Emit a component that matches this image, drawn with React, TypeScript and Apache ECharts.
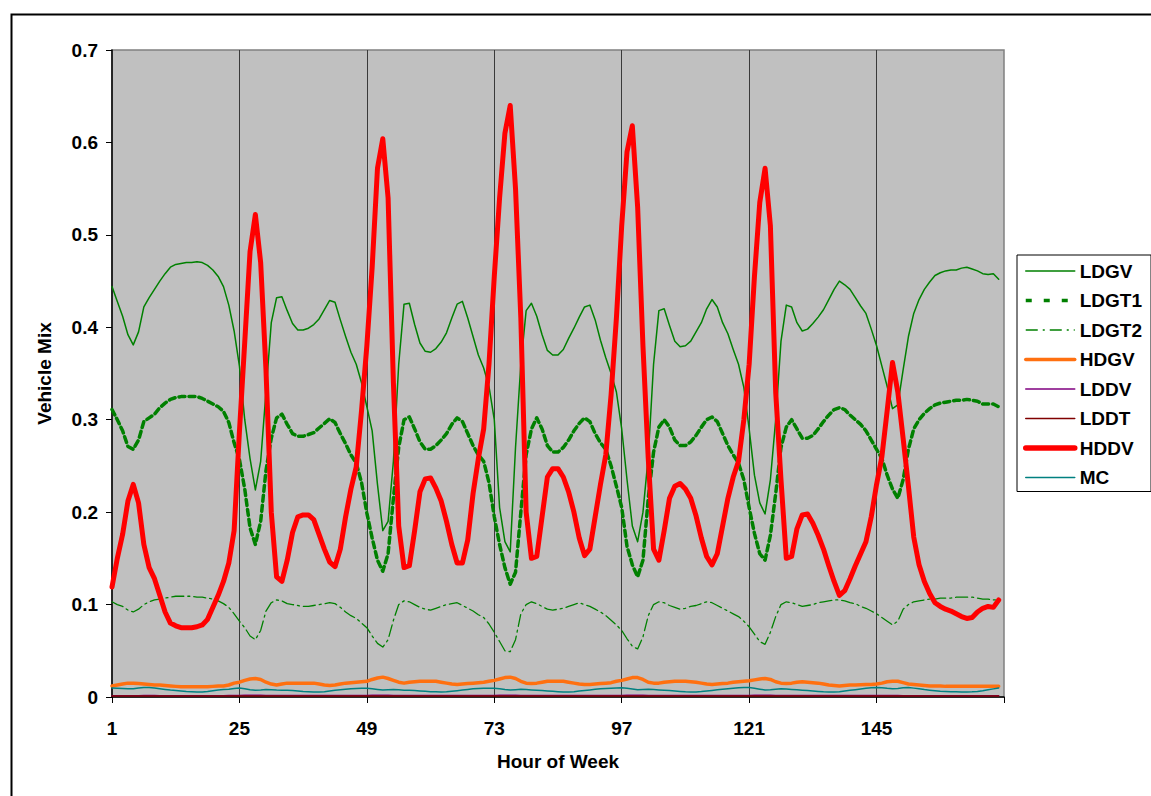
import React, { useEffect, useRef } from "react";
import * as echarts from "echarts";

// Hour-of-week categories (1..169; data covers 1..168)
const hours: string[] = Array.from({ length: 169 }, (_, i) => String(i + 1));
const yTicks = [0, 0.1, 0.2, 0.3, 0.4, 0.5, 0.6, 0.7];

const LDGV = [
  0.444, 0.428, 0.412, 0.392, 0.381, 0.395, 0.422, 0.432, 0.441, 0.450, 0.458, 0.465, 0.468, 0.469, 0.470, 0.470, 0.471, 0.470, 0.467, 0.462, 0.455, 0.444, 0.424, 0.396,
  0.358, 0.300, 0.258, 0.224, 0.255, 0.330, 0.405, 0.432, 0.433, 0.418, 0.404, 0.397, 0.397, 0.399, 0.403, 0.409, 0.419, 0.429, 0.427, 0.408, 0.390, 0.373, 0.360, 0.340,
  0.314, 0.288, 0.230, 0.180, 0.190, 0.255, 0.360, 0.425, 0.426, 0.403, 0.383, 0.374, 0.373, 0.377, 0.384, 0.394, 0.410, 0.425, 0.428, 0.410, 0.390, 0.370, 0.356, 0.336,
  0.300, 0.205, 0.168, 0.157, 0.270, 0.360, 0.418, 0.426, 0.412, 0.392, 0.375, 0.370, 0.370, 0.376, 0.388, 0.399, 0.411, 0.422, 0.424, 0.408, 0.386, 0.367, 0.350, 0.330,
  0.290, 0.235, 0.185, 0.168, 0.200, 0.260, 0.360, 0.418, 0.420, 0.402, 0.385, 0.379, 0.380, 0.385, 0.395, 0.405, 0.420, 0.430, 0.422, 0.405, 0.393, 0.376, 0.360, 0.335,
  0.290, 0.240, 0.210, 0.198, 0.235, 0.300, 0.385, 0.424, 0.422, 0.405, 0.396, 0.398, 0.404, 0.411, 0.419, 0.430, 0.441, 0.450, 0.446, 0.441, 0.432, 0.423, 0.415, 0.398,
  0.380, 0.358, 0.336, 0.312, 0.316, 0.354, 0.390, 0.415, 0.430, 0.441, 0.449, 0.456, 0.459, 0.461, 0.462, 0.462, 0.464, 0.465, 0.463, 0.461, 0.458, 0.457, 0.458, 0.452,
];

const LDGT1 = [
  0.311, 0.300, 0.288, 0.271, 0.268, 0.278, 0.298, 0.302, 0.306, 0.313, 0.318, 0.322, 0.324, 0.325, 0.325, 0.325, 0.325, 0.323, 0.320, 0.317, 0.314, 0.309, 0.297, 0.275,
  0.257, 0.225, 0.183, 0.165, 0.190, 0.245, 0.280, 0.302, 0.306, 0.295, 0.285, 0.282, 0.282, 0.284, 0.286, 0.291, 0.296, 0.301, 0.297, 0.285, 0.274, 0.262, 0.253, 0.232,
  0.199, 0.172, 0.148, 0.136, 0.155, 0.215, 0.270, 0.300, 0.303, 0.290, 0.276, 0.268, 0.268, 0.272, 0.278, 0.285, 0.295, 0.302, 0.298, 0.285, 0.272, 0.262, 0.255, 0.232,
  0.195, 0.165, 0.140, 0.122, 0.135, 0.200, 0.262, 0.290, 0.302, 0.290, 0.272, 0.265, 0.265, 0.270, 0.278, 0.288, 0.296, 0.302, 0.298, 0.285, 0.275, 0.268, 0.250, 0.228,
  0.205, 0.163, 0.143, 0.130, 0.148, 0.215, 0.265, 0.292, 0.300, 0.292, 0.278, 0.272, 0.272, 0.276, 0.283, 0.292, 0.300, 0.303, 0.298, 0.285, 0.272, 0.262, 0.253, 0.235,
  0.205, 0.177, 0.155, 0.148, 0.175, 0.220, 0.270, 0.292, 0.300, 0.290, 0.280, 0.280, 0.283, 0.290, 0.298, 0.305, 0.311, 0.313, 0.311, 0.305, 0.300, 0.295, 0.288, 0.278,
  0.268, 0.258, 0.240, 0.225, 0.215, 0.235, 0.268, 0.290, 0.300, 0.307, 0.312, 0.316, 0.318, 0.319, 0.320, 0.321, 0.321, 0.322, 0.321, 0.320, 0.317, 0.317, 0.317, 0.314,
];

const LDGT2 = [
  0.103, 0.100, 0.098, 0.094, 0.092, 0.095, 0.100, 0.103, 0.105, 0.106, 0.107, 0.108, 0.109, 0.109, 0.109, 0.109, 0.108, 0.108, 0.107, 0.106, 0.104, 0.101, 0.097, 0.090,
  0.082, 0.075, 0.066, 0.062, 0.072, 0.093, 0.102, 0.105, 0.104, 0.101, 0.100, 0.099, 0.098, 0.098, 0.099, 0.100, 0.101, 0.102, 0.101, 0.097, 0.092, 0.088, 0.085, 0.080,
  0.075, 0.066, 0.058, 0.054, 0.062, 0.083, 0.100, 0.104, 0.103, 0.100, 0.097, 0.095, 0.094, 0.096, 0.098, 0.100, 0.101, 0.102, 0.099, 0.096, 0.093, 0.089, 0.086, 0.079,
  0.070, 0.060, 0.050, 0.049, 0.062, 0.090, 0.100, 0.103, 0.101, 0.098, 0.095, 0.094, 0.095, 0.096, 0.098, 0.100, 0.102, 0.100, 0.098, 0.095, 0.092, 0.088, 0.083, 0.078,
  0.072, 0.063, 0.055, 0.052, 0.065, 0.088, 0.100, 0.103, 0.102, 0.099, 0.097, 0.095, 0.096, 0.098, 0.099, 0.101, 0.103, 0.102, 0.099, 0.096, 0.093, 0.090, 0.087, 0.082,
  0.076, 0.068, 0.060, 0.057, 0.070, 0.087, 0.100, 0.103, 0.102, 0.100, 0.098, 0.099, 0.100, 0.102, 0.103, 0.104, 0.105, 0.105, 0.104, 0.102, 0.101, 0.098, 0.096, 0.093,
  0.090, 0.086, 0.082, 0.078, 0.082, 0.095, 0.100, 0.103, 0.104, 0.105, 0.106, 0.106, 0.107, 0.107, 0.107, 0.108, 0.108, 0.108, 0.108, 0.107, 0.106, 0.106, 0.105, 0.105,
];

const HDGV = [
  0.0120, 0.0130, 0.0140, 0.0150, 0.0150, 0.0145, 0.0140, 0.0135, 0.0130, 0.0130, 0.0125, 0.0120, 0.0115, 0.0110, 0.0110, 0.0110, 0.0110, 0.0110, 0.0110, 0.0115, 0.0120, 0.0120, 0.0130, 0.0150,
  0.0160, 0.0180, 0.0195, 0.0200, 0.0190, 0.0160, 0.0140, 0.0130, 0.0140, 0.0150, 0.0150, 0.0150, 0.0150, 0.0150, 0.0150, 0.0140, 0.0130, 0.0125, 0.0130, 0.0140, 0.0150, 0.0155, 0.0160, 0.0165,
  0.0170, 0.0190, 0.0205, 0.0215, 0.0200, 0.0180, 0.0160, 0.0150, 0.0160, 0.0165, 0.0170, 0.0170, 0.0170, 0.0170, 0.0160, 0.0150, 0.0140, 0.0135, 0.0140, 0.0145, 0.0150, 0.0155, 0.0160, 0.0170,
  0.0180, 0.0195, 0.0210, 0.0215, 0.0200, 0.0170, 0.0150, 0.0145, 0.0150, 0.0160, 0.0170, 0.0170, 0.0170, 0.0170, 0.0160, 0.0150, 0.0140, 0.0135, 0.0135, 0.0140, 0.0145, 0.0150, 0.0155, 0.0170,
  0.0180, 0.0195, 0.0210, 0.0210, 0.0190, 0.0160, 0.0150, 0.0150, 0.0160, 0.0165, 0.0170, 0.0170, 0.0170, 0.0165, 0.0160, 0.0150, 0.0140, 0.0135, 0.0140, 0.0145, 0.0150, 0.0160, 0.0165, 0.0170,
  0.0175, 0.0185, 0.0195, 0.0200, 0.0190, 0.0165, 0.0150, 0.0145, 0.0150, 0.0160, 0.0165, 0.0160, 0.0155, 0.0150, 0.0140, 0.0130, 0.0125, 0.0120, 0.0125, 0.0130, 0.0130, 0.0133, 0.0135, 0.0135,
  0.0140, 0.0150, 0.0165, 0.0170, 0.0170, 0.0155, 0.0140, 0.0135, 0.0130, 0.0125, 0.0120, 0.0120, 0.0120, 0.0115, 0.0115, 0.0115, 0.0115, 0.0115, 0.0115, 0.0115, 0.0115, 0.0115, 0.0115, 0.0115,
];

const LDDV = [
  0.0015, 0.0015, 0.0014, 0.0014, 0.0014, 0.0015, 0.0016, 0.0016, 0.0016, 0.0015, 0.0015, 0.0015, 0.0014, 0.0014, 0.0014, 0.0014, 0.0014, 0.0014, 0.0014, 0.0015, 0.0015, 0.0015, 0.0016, 0.0017,
  0.0018, 0.0019, 0.0019, 0.0019, 0.0019, 0.0018, 0.0018, 0.0017, 0.0017, 0.0017, 0.0017, 0.0017, 0.0017, 0.0017, 0.0017, 0.0017, 0.0017, 0.0017, 0.0017, 0.0017, 0.0017, 0.0017, 0.0017, 0.0018,
  0.0018, 0.0019, 0.0019, 0.0019, 0.0019, 0.0018, 0.0018, 0.0017, 0.0017, 0.0017, 0.0017, 0.0017, 0.0017, 0.0017, 0.0017, 0.0017, 0.0017, 0.0017, 0.0017, 0.0017, 0.0017, 0.0017, 0.0017, 0.0018,
  0.0018, 0.0019, 0.0019, 0.0019, 0.0019, 0.0018, 0.0018, 0.0017, 0.0017, 0.0017, 0.0017, 0.0017, 0.0017, 0.0017, 0.0017, 0.0017, 0.0017, 0.0017, 0.0017, 0.0017, 0.0017, 0.0017, 0.0017, 0.0018,
  0.0018, 0.0019, 0.0019, 0.0019, 0.0019, 0.0018, 0.0018, 0.0017, 0.0017, 0.0017, 0.0017, 0.0017, 0.0017, 0.0017, 0.0017, 0.0017, 0.0017, 0.0017, 0.0017, 0.0017, 0.0017, 0.0017, 0.0017, 0.0018,
  0.0018, 0.0019, 0.0019, 0.0019, 0.0019, 0.0018, 0.0018, 0.0017, 0.0017, 0.0017, 0.0017, 0.0017, 0.0016, 0.0016, 0.0016, 0.0016, 0.0016, 0.0016, 0.0016, 0.0016, 0.0016, 0.0016, 0.0016, 0.0016,
  0.0016, 0.0016, 0.0016, 0.0016, 0.0016, 0.0015, 0.0015, 0.0015, 0.0015, 0.0015, 0.0015, 0.0015, 0.0014, 0.0014, 0.0014, 0.0014, 0.0014, 0.0014, 0.0014, 0.0014, 0.0014, 0.0014, 0.0015, 0.0015,
];

const LDDT = [
  0.0010, 0.0010, 0.0010, 0.0010, 0.0010, 0.0010, 0.0011, 0.0011, 0.0011, 0.0010, 0.0010, 0.0010, 0.0010, 0.0010, 0.0010, 0.0010, 0.0010, 0.0010, 0.0010, 0.0010, 0.0010, 0.0010, 0.0011, 0.0011,
  0.0012, 0.0012, 0.0012, 0.0012, 0.0012, 0.0012, 0.0011, 0.0011, 0.0011, 0.0011, 0.0011, 0.0011, 0.0011, 0.0011, 0.0011, 0.0011, 0.0011, 0.0011, 0.0011, 0.0011, 0.0011, 0.0011, 0.0011, 0.0012,
  0.0012, 0.0012, 0.0012, 0.0012, 0.0012, 0.0012, 0.0011, 0.0011, 0.0011, 0.0011, 0.0011, 0.0011, 0.0011, 0.0011, 0.0011, 0.0011, 0.0011, 0.0011, 0.0011, 0.0011, 0.0011, 0.0011, 0.0011, 0.0012,
  0.0012, 0.0012, 0.0012, 0.0012, 0.0012, 0.0012, 0.0011, 0.0011, 0.0011, 0.0011, 0.0011, 0.0011, 0.0011, 0.0011, 0.0011, 0.0011, 0.0011, 0.0011, 0.0011, 0.0011, 0.0011, 0.0011, 0.0011, 0.0012,
  0.0012, 0.0012, 0.0012, 0.0012, 0.0012, 0.0012, 0.0011, 0.0011, 0.0011, 0.0011, 0.0011, 0.0011, 0.0011, 0.0011, 0.0011, 0.0011, 0.0011, 0.0011, 0.0011, 0.0011, 0.0011, 0.0011, 0.0011, 0.0012,
  0.0012, 0.0012, 0.0012, 0.0012, 0.0012, 0.0012, 0.0011, 0.0011, 0.0011, 0.0011, 0.0011, 0.0011, 0.0011, 0.0011, 0.0011, 0.0011, 0.0011, 0.0011, 0.0011, 0.0011, 0.0011, 0.0011, 0.0011, 0.0011,
  0.0011, 0.0011, 0.0011, 0.0011, 0.0011, 0.0010, 0.0010, 0.0010, 0.0010, 0.0010, 0.0010, 0.0010, 0.0010, 0.0010, 0.0010, 0.0010, 0.0010, 0.0010, 0.0010, 0.0010, 0.0010, 0.0010, 0.0010, 0.0010,
];

const HDDV = [
  0.119, 0.150, 0.176, 0.212, 0.230, 0.210, 0.165, 0.140, 0.128, 0.110, 0.092, 0.080, 0.077, 0.075, 0.075, 0.075, 0.076, 0.078, 0.084, 0.097, 0.110, 0.125, 0.145, 0.180,
  0.287, 0.384, 0.482, 0.522, 0.470, 0.354, 0.200, 0.130, 0.125, 0.148, 0.178, 0.195, 0.197, 0.197, 0.192, 0.176, 0.160, 0.146, 0.141, 0.160, 0.195, 0.225, 0.249, 0.310,
  0.380, 0.465, 0.572, 0.604, 0.540, 0.340, 0.185, 0.140, 0.142, 0.180, 0.222, 0.236, 0.237, 0.226, 0.212, 0.190, 0.165, 0.145, 0.145, 0.170, 0.220, 0.258, 0.290, 0.360,
  0.455, 0.540, 0.610, 0.640, 0.550, 0.410, 0.200, 0.150, 0.152, 0.195, 0.238, 0.247, 0.247, 0.238, 0.222, 0.200, 0.172, 0.153, 0.160, 0.195, 0.230, 0.262, 0.327, 0.410,
  0.510, 0.590, 0.618, 0.530, 0.380, 0.258, 0.160, 0.148, 0.180, 0.215, 0.228, 0.231, 0.225, 0.215, 0.196, 0.172, 0.152, 0.143, 0.155, 0.185, 0.215, 0.238, 0.255, 0.300,
  0.360, 0.455, 0.535, 0.572, 0.510, 0.330, 0.235, 0.150, 0.152, 0.182, 0.197, 0.198, 0.188, 0.175, 0.160, 0.142, 0.125, 0.110, 0.115, 0.128, 0.142, 0.155, 0.168, 0.195,
  0.230, 0.260, 0.310, 0.362, 0.330, 0.280, 0.228, 0.173, 0.143, 0.125, 0.112, 0.102, 0.098, 0.095, 0.093, 0.090, 0.087, 0.085, 0.086, 0.092, 0.096, 0.098, 0.097, 0.105,
];

const MC = [
  0.0097, 0.0095, 0.0093, 0.0090, 0.0090, 0.0098, 0.0104, 0.0102, 0.0098, 0.0090, 0.0082, 0.0075, 0.0070, 0.0065, 0.0060, 0.0057, 0.0055, 0.0055, 0.0060, 0.0068, 0.0075, 0.0080, 0.0085, 0.0092,
  0.0097, 0.0090, 0.0078, 0.0072, 0.0075, 0.0080, 0.0078, 0.0075, 0.0074, 0.0072, 0.0070, 0.0066, 0.0060, 0.0057, 0.0054, 0.0054, 0.0058, 0.0065, 0.0072, 0.0079, 0.0085, 0.0090, 0.0093, 0.0094,
  0.0094, 0.0090, 0.0082, 0.0075, 0.0078, 0.0082, 0.0078, 0.0074, 0.0072, 0.0070, 0.0066, 0.0062, 0.0058, 0.0056, 0.0055, 0.0057, 0.0062, 0.0068, 0.0075, 0.0082, 0.0088, 0.0092, 0.0094, 0.0095,
  0.0094, 0.0090, 0.0082, 0.0076, 0.0079, 0.0083, 0.0080, 0.0076, 0.0073, 0.0070, 0.0066, 0.0062, 0.0058, 0.0055, 0.0055, 0.0058, 0.0064, 0.0070, 0.0077, 0.0083, 0.0089, 0.0093, 0.0096, 0.0098,
  0.0099, 0.0094, 0.0086, 0.0078, 0.0080, 0.0083, 0.0080, 0.0076, 0.0072, 0.0069, 0.0065, 0.0060, 0.0056, 0.0054, 0.0055, 0.0059, 0.0065, 0.0071, 0.0078, 0.0085, 0.0090, 0.0095, 0.0099, 0.0104,
  0.0102, 0.0095, 0.0085, 0.0076, 0.0078, 0.0084, 0.0090, 0.0086, 0.0082, 0.0078, 0.0074, 0.0070, 0.0065, 0.0060, 0.0056, 0.0054, 0.0055, 0.0058, 0.0065, 0.0072, 0.0079, 0.0086, 0.0094, 0.0100,
  0.0104, 0.0100, 0.0094, 0.0090, 0.0093, 0.0099, 0.0104, 0.0096, 0.0088, 0.0080, 0.0074, 0.0068, 0.0063, 0.0060, 0.0058, 0.0056, 0.0055, 0.0054, 0.0056, 0.0060, 0.0068, 0.0078, 0.0088, 0.0097,
];

const FONT = "'Liberation Sans', Arial, sans-serif";

export default function App() {
  const ref = useRef<HTMLDivElement>(null);

  useEffect(() => {
    document.body.style.margin = "0";
    if (!ref.current) return;
    const chart = echarts.init(ref.current, null, { renderer: "svg" });

    const mk = (name: string, data: number[], color: string, width: number, type: any) => ({
      name,
      type: "line",
      data,
      symbol: "none",
      showSymbol: false,
      smooth: false,
      lineStyle: { color, width, type, cap: "round", join: "round" },
      itemStyle: { color },
      emphasis: { disabled: true },
    });

    const every24 = (i: number) => i % 24 === 0;

    chart.setOption({
      animation: false,
      backgroundColor: "#ffffff",
      textStyle: { fontFamily: FONT },
      graphic: [
        {
          type: "rect",
          left: 9,
          top: 12,
          shape: { x: 0, y: 0, width: 1200, height: 900 },
          style: { fill: "none", stroke: "#000000", lineWidth: 2 },
          silent: true,
          z: 100,
        },
      ],
      grid: {
        left: 112,
        top: 50,
        right: 147,
        bottom: 99,
        show: true,
        backgroundColor: "#C0C0C0",
        borderColor: "#808080",
        borderWidth: 1.5,
        containLabel: false,
      },
      legend: {
        orient: "vertical",
        left: 1017,
        top: 255,
        padding: [6, 9, 4, 6],
        itemWidth: 49,
        itemHeight: 16,
        itemGap: 9.5,
        backgroundColor: "#ffffff",
        borderColor: "#000000",
        borderWidth: 1,
        borderRadius: 0,
        itemStyle: { opacity: 0 },
        textStyle: { fontFamily: FONT, fontSize: 19, fontWeight: "bold", color: "#000", lineHeight: 20 },
        data: [
          { name: "LDGV", lineStyle: { width: 1.5 } },
          { name: "LDGT1", lineStyle: { width: 3.5, type: [6, 12], cap: "butt" } },
          { name: "LDGT2", lineStyle: { width: 1.5, type: [12, 5, 2, 5], cap: "butt" } },
          { name: "HDGV", lineStyle: { width: 3.5 } },
          { name: "LDDV", lineStyle: { width: 1.5 } },
          { name: "LDDT", lineStyle: { width: 1.5 } },
          { name: "HDDV", lineStyle: { width: 5.5 } },
          { name: "MC", lineStyle: { width: 1.5 } },
        ],
      },
      xAxis: {
        type: "category",
        data: hours,
        boundaryGap: false,
        name: "Hour of Week",
        nameLocation: "middle",
        nameGap: 55,
        nameTextStyle: { fontFamily: FONT, fontSize: 19, fontWeight: "bold", color: "#000" },
        axisLine: { show: true, lineStyle: { color: "#000", width: 1.5 } },
        axisTick: { show: true, interval: (i: number) => every24(i), length: 6, lineStyle: { color: "#000" } },
        axisLabel: {
          interval: (i: number) => every24(i) && i < 168,
          margin: 22,
          fontFamily: FONT,
          fontSize: 19,
          fontWeight: "bold",
          color: "#000",
        },
        splitLine: {
          show: true,
          interval: (i: number) => every24(i) && i > 0 && i < 168,
          lineStyle: { color: "#3a3a3a", width: 1 },
        },
      },
      yAxis: {
        type: "value",
        min: yTicks[0],
        max: yTicks[yTicks.length - 1],
        interval: 0.1,
        name: "Vehicle Mix",
        nameLocation: "middle",
        nameGap: 58,
        nameTextStyle: { fontFamily: FONT, fontSize: 19, fontWeight: "bold", color: "#000" },
        axisLine: { show: true, lineStyle: { color: "#000", width: 1.5 } },
        axisTick: { show: true, length: 6, lineStyle: { color: "#000" } },
        axisLabel: {
          margin: 14,
          fontFamily: FONT,
          fontSize: 19,
          fontWeight: "bold",
          color: "#000",
          formatter: (v: number) => (v === 0 ? "0" : v.toFixed(1)),
        },
        splitLine: { show: false },
      },
      series: [
        mk("LDGV", LDGV, "#008000", 1.5, "solid"),
        mk("LDGT1", LDGT1, "#008000", 3.5, [6, 4]),
        mk("LDGT2", LDGT2, "#008000", 1.3, [12, 4, 2, 4]),
        mk("HDGV", HDGV, "#FF7010", 3.5, "solid"),
        mk("LDDV", LDDV, "#800080", 1.3, "solid"),
        mk("LDDT", LDDT, "#800000", 1.5, "solid"),
        mk("HDDV", HDDV, "#FF0000", 5, "solid"),
        mk("MC", MC, "#008080", 1.5, "solid"),
      ],
    });

    return () => chart.dispose();
  }, []);

  return <div ref={ref} style={{ width: 1151, height: 796 }} />;
}
